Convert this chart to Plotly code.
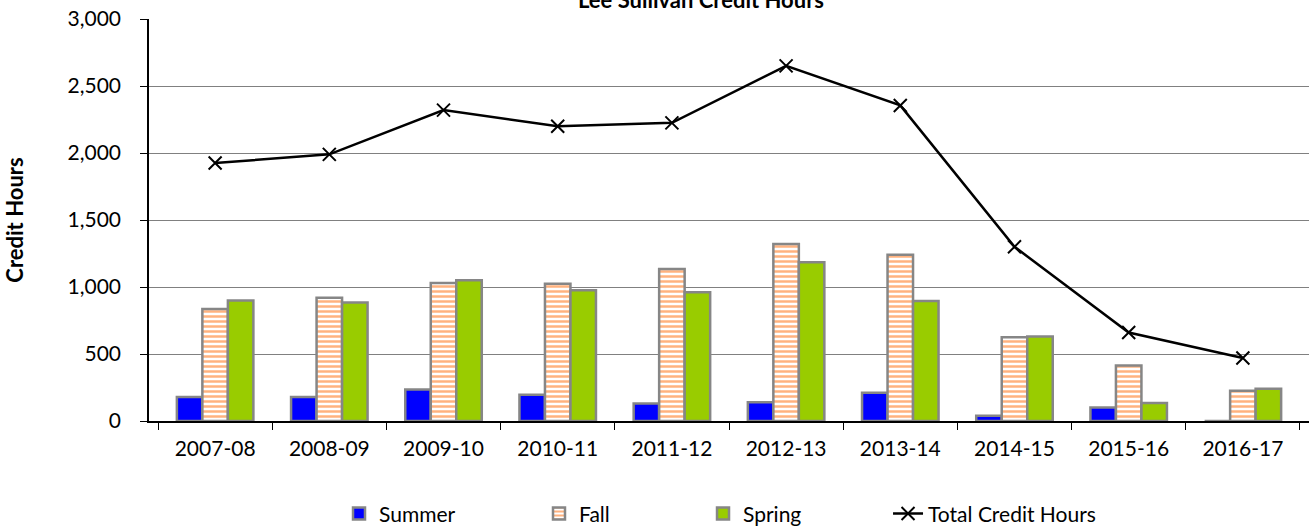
import plotly.graph_objects as go

years = ["2007-08", "2008-09", "2009-10", "2010-11", "2011-12",
         "2012-13", "2013-14", "2014-15", "2015-16", "2016-17"]
summer = [180, 180, 235, 195, 130, 140, 210, 40, 100, 0]
fall = [835, 920, 1030, 1025, 1135, 1320, 1240, 625, 415, 225]
spring = [900, 885, 1050, 975, 960, 1185, 895, 630, 135, 240]
total = [1925, 1990, 2320, 2200, 2225, 2650, 2355, 1300, 660, 470]

FONT = "Lato"
edge = dict(color="#868686", width=2.5)


def leg(x):
    return dict(orientation="h", x=x, xanchor="left", y=-0.231,
                yanchor="middle", font=dict(size=21, family=FONT),
                bgcolor="rgba(0,0,0,0)")


fig = go.Figure()
fig.add_trace(go.Bar(name="Summer", x=years, y=summer, legend="legend",
                     marker=dict(color="#0000FF", line=edge)))
fig.add_trace(go.Bar(name="Fall", x=years, y=fall, legend="legend2",
                     marker=dict(color="white", line=edge,
                                 pattern=dict(shape="-", fgcolor="#FF6600",
                                              bgcolor="white", size=5,
                                              solidity=0.5))))
fig.add_trace(go.Bar(name="Spring", x=years, y=spring, legend="legend3",
                     marker=dict(color="#99CC00", line=edge)))
fig.add_trace(go.Scatter(name="Total Credit Hours", x=years, y=total,
                         legend="legend4",
                         mode="lines+markers",
                         line=dict(color="black", width=2.5),
                         marker=dict(symbol="x-thin-open", size=13,
                                     color="black",
                                     line=dict(color="black", width=2))))

fig.update_layout(
    width=1312, height=527,
    margin=dict(l=149, r=3, t=19, b=106, autoexpand=False),
    paper_bgcolor="white", plot_bgcolor="white",
    font=dict(family=FONT, size=21, color="black"),
    barmode="group", bargap=0.33, bargroupgap=0,
    showlegend=True,
    legend=leg(0.1638), legend2=leg(0.3362), legend3=leg(0.4776),
    legend4=leg(0.6371),
    annotations=[dict(text="<b>Lee Sullivan Credit Hours</b>", x=0.476,
                      xref="paper", y=1.011, yref="paper",
                      yanchor="bottom", xanchor="center", showarrow=False,
                      font=dict(size=22, family=FONT))],
)
fig.update_xaxes(type="category", showline=True, linecolor="black",
                 linewidth=1.5, ticks="outside", tickson="boundaries",
                 ticklen=7, tickcolor="black", showgrid=False,
                 automargin=False,
                 ticklabelstandoff=8, tickfont=dict(size=21))
fig.update_yaxes(range=[0, 3000], dtick=500, tickformat=",",
                 showline=True, linecolor="black", linewidth=1.5,
                 ticks="outside", ticklen=7, tickcolor="black",
                 showgrid=True, gridcolor="#808080", gridwidth=1.2,
                 zeroline=False, tickfont=dict(size=21),
                 ticklabelstandoff=15, automargin=False,
                 ticklabeloverflow="allow",
                 title=dict(text="<b>Credit Hours</b>", standoff=38,
                            font=dict(size=22)))

fig.write_html("out.html", config={"displayModeBar": False},
               post_script="document.body.style.margin='0';")
